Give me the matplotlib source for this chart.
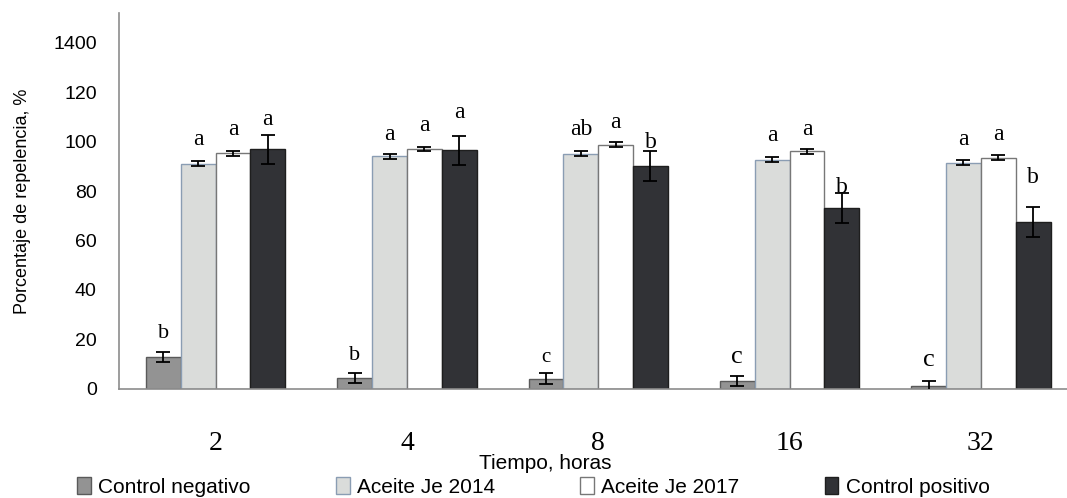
import numpy as np
import matplotlib.pyplot as plt
from matplotlib.patches import Patch

# Datos
tiempos = ['2', '4', '8', '16', '32']
series = ['Control negativo', 'Aceite Je 2014', 'Aceite Je 2017', 'Control positivo']

control_neg = [12.9, 4.4, 4.2, 3.2, 1.3]
aceite_2014 = [91.1, 94.1, 95.1, 92.7, 91.4]
aceite_2017 = [95.3, 97.0, 98.8, 96.0, 93.4]
control_pos = [96.8, 96.4, 90.0, 73.1, 67.5]

err_neg = [2.2, 2.0, 2.2, 2.0, 2.0]
err_2014 = [1.0, 1.0, 1.0, 1.0, 1.0]
err_2017 = [1.0, 1.0, 1.0, 1.0, 1.0]
err_pos = [6.0, 6.0, 6.0, 6.0, 6.0]

letras_neg = ['b', 'b', 'c', 'c', 'c']
letras_2014 = ['a', 'a', 'ab', 'a', 'a']
letras_2017 = ['a', 'a', 'a', 'a', 'a']
letras_pos = ['a', 'a', 'b', 'b', 'b']

# altura de las letras sobre cada barra
y_letras_neg = [22.6, 13.7, 12.9, 12.9, 11.7]
y_letras_2014 = [101, 103, 105, 102.4, 101]
y_letras_2017 = [105, 106.5, 107.6, 105, 102.8]
y_letras_pos = [109, 111.7, 99.7, 81.6, 85.6]
tam_letras_neg = [16, 16, 15, 19, 19]

colores = ['#939393', '#dadcda', '#ffffff', '#313236']
bordes = ['#5a5a5a', '#8a9db3', '#777777', '#1e1e1e']

valores = [control_neg, aceite_2014, aceite_2017, control_pos]
errores = [err_neg, err_2014, err_2017, err_pos]
letras = [letras_neg, letras_2014, letras_2017, letras_pos]
y_letras = [y_letras_neg, y_letras_2014, y_letras_2017, y_letras_pos]

fig = plt.figure(figsize=(10.67, 4.98), dpi=100)
ax = fig.add_axes([0.1115, 0.219, 0.8885, 0.755])

x = np.arange(len(tiempos))
ancho = 0.182
for i in range(4):
    pos = x + (i - 1.5) * ancho
    ax.bar(pos, valores[i], ancho, color=colores[i], edgecolor=bordes[i], linewidth=1.0, zorder=2)
    ax.errorbar(pos, valores[i], yerr=errores[i], fmt='none', ecolor='black',
                elinewidth=1.3, capsize=5, capthick=1.3, zorder=3)
    for j in range(len(tiempos)):
        tam = tam_letras_neg[j] if i == 0 else 17
        ax.text(pos[j], y_letras[i][j], letras[i][j], ha='center', va='center',
                fontsize=tam, family='Liberation Serif', zorder=4)

ax.set_xlim(-0.505, 4.45)
ax.set_ylim(0, 152)
ax.set_xticks(x)
ax.set_xticklabels(tiempos, family='Liberation Serif', fontsize=20)
ax.set_yticks([0, 20, 40, 60, 80, 100, 120, 140])
ax.set_yticklabels(['0', '20', '40', '60', '80', '100', '120', '1400'],
                   family='Liberation Sans', fontsize=14)
ax.tick_params(axis='y', length=0, pad=16)
ax.tick_params(axis='x', length=0, pad=30)

for s in ['top', 'right']:
    ax.spines[s].set_visible(False)
ax.spines['left'].set_color('#8c8c8c')
ax.spines['bottom'].set_color('#8c8c8c')
ax.spines['left'].set_linewidth(1.2)
ax.spines['bottom'].set_linewidth(1.2)

ax.set_ylabel('Porcentaje de repelencia, %', family='Liberation Sans', fontsize=13, labelpad=16)
fig.text(0.511, 0.069, 'Tiempo, horas', ha='center', va='center',
         family='Liberation Sans', fontsize=15)

handles = [Patch(facecolor=colores[i], edgecolor=bordes[i], label=series[i]) for i in range(4)]
fig.legend(handles=handles, loc='center', bbox_to_anchor=(0.5, 0.022), ncol=4, frameon=False,
           prop={'family': 'Liberation Sans', 'size': 15}, handlelength=0.65, handleheight=0.9,
           handletextpad=0.35, columnspacing=4.1, borderpad=0)

fig.savefig('out.png', dpi=100)
